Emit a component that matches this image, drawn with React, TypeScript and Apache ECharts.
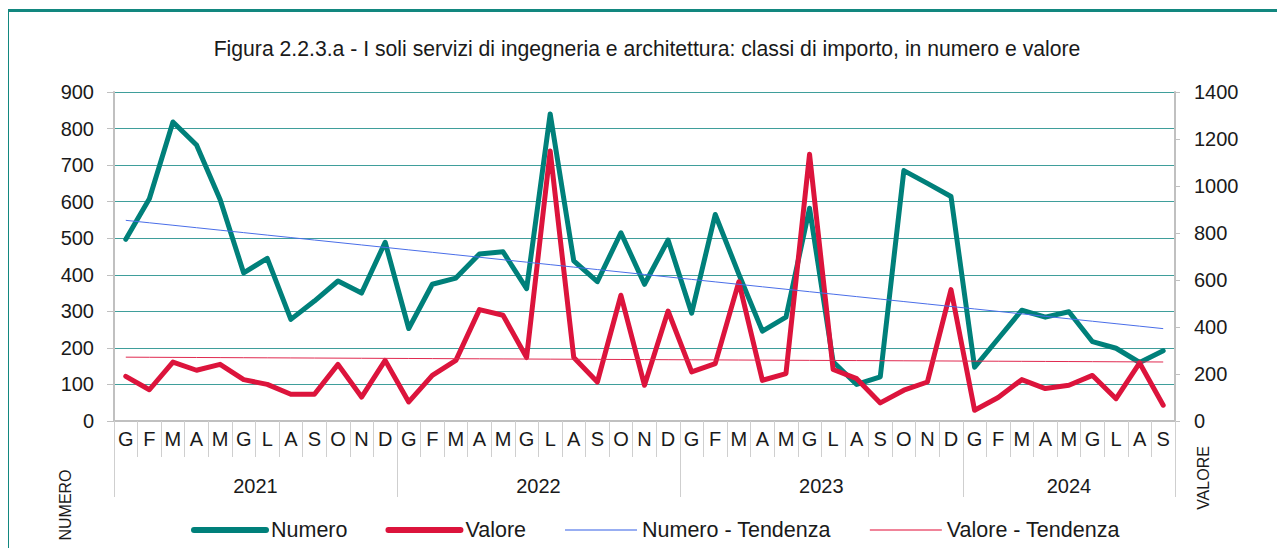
import React, { useEffect, useRef } from 'react';
import * as echarts from 'echarts';

const monthLetters = ['G', 'F', 'M', 'A', 'M', 'G', 'L', 'A', 'S', 'O', 'N', 'D'];
const years = ['2021', '2022', '2023', '2024'];
const monthsPerYear = [12, 12, 12, 9];

const numero = [
  497, 608, 818, 755, 606, 405, 445, 278, 328, 383, 350, 489,
  253, 374, 391, 457, 463, 362, 840, 438, 381, 515, 374, 495,
  295, 565, 402, 246, 284, 582, 162, 100, 121, 685, 650, 614,
  147, 225, 303, 284, 299, 217, 199, 160, 192,
];
const valore = [
  190, 133, 251, 216, 241, 176, 156, 114, 114, 241, 102, 258,
  81, 194, 258, 474, 450, 270, 1149, 270, 166, 535, 152, 468,
  209, 244, 592, 173, 202, 1135, 219, 180, 77, 131, 166, 559,
  46, 100, 176, 138, 152, 194, 95, 247, 67,
];

const leftMax = 900;
const leftStep = 100;
const rightMax = 1400;
const rightStep = 200;

const seriesNames = ['Numero', 'Valore', 'Numero - Tendenza', 'Valore - Tendenza'];
const titleText =
  'Figura 2.2.3.a - I soli servizi di ingegneria e architettura: classi di importo, in numero e valore';

function linearTrend(values: number[]): number[] {
  const n = values.length;
  let sx = 0, sy = 0, sxx = 0, sxy = 0;
  values.forEach((v, i) => {
    sx += i; sy += v; sxx += i * i; sxy += i * v;
  });
  const slope = (n * sxy - sx * sy) / (n * sxx - sx * sx);
  const intercept = (sy - slope * sx) / n;
  return values.map((_, i) => +(intercept + slope * i).toFixed(2));
}

const FONT = 'Liberation Sans, Arial, sans-serif';

export default function App() {
  const ref = useRef<HTMLDivElement>(null);

  useEffect(() => {
    if (!ref.current) return;
    const chart = echarts.init(ref.current, undefined, { renderer: 'svg' });

    const categories: string[] = [];
    years.forEach((y, yi) => {
      for (let m = 0; m < monthsPerYear[yi]; m++) categories.push(monthLetters[m] + ' ' + y);
    });
    const yearLabelIdx: Record<number, boolean> = {};
    const evenYear: Record<number, boolean> = {};
    let start = 0;
    monthsPerYear.forEach((cnt) => {
      const idx = start + Math.floor((cnt - 1) / 2);
      yearLabelIdx[idx] = true;
      if (cnt % 2 === 0) evenYear[idx] = true;
      start += cnt;
    });

    const gridColor = '#3f9e9b';
    const axisGray = '#c0c0c0';

    chart.setOption({
      animation: false,
      backgroundColor: '#ffffff',
      title: {
        text: titleText,
        left: 'center',
        top: 21,
        textStyle: { fontFamily: FONT, fontSize: 21.2, fontWeight: 'normal', color: '#1a1a1a' },
      },
      grid: { left: 105, right: 110, top: 80, bottom: 128, containLabel: false },
      legend: {
        data: [
          { name: seriesNames[0], lineStyle: { width: 6, cap: 'round' } },
          { name: seriesNames[1], lineStyle: { width: 6, cap: 'round' } },
          { name: seriesNames[2], lineStyle: { width: 2, color: '#98aef2' } },
          { name: seriesNames[3], lineStyle: { width: 2, color: '#f08499' } },
        ],
        left: 177,
        top: 502,
        itemWidth: 72,
        itemHeight: 14,
        itemGap: 38,
        itemStyle: { opacity: 0 },
        textStyle: { fontFamily: FONT, fontSize: 21.5, color: '#1a1a1a' },
      },
      xAxis: [
        {
          type: 'category',
          data: categories,
          boundaryGap: true,
          axisLine: { show: true, lineStyle: { color: axisGray, width: 2 } },
          axisTick: { show: true, interval: 0, length: 36, lineStyle: { color: '#cfcfcf', width: 1 } },
          axisLabel: {
            interval: 0,
            margin: 8,
            fontFamily: FONT,
            fontSize: 20,
            color: '#1a1a1a',
            formatter: (v: string) => v.split(' ')[0],
          },
          splitLine: { show: false },
        },
        {
          type: 'category',
          data: categories,
          position: 'bottom',
          boundaryGap: true,
          axisLine: { show: false },
          axisTick: { show: true, interval: 11, length: 76, lineStyle: { color: '#cfcfcf', width: 1 } },
          axisLabel: {
            interval: (idx: number) => !!yearLabelIdx[idx],
            margin: 55,
            fontFamily: FONT,
            fontSize: 20,
            color: '#1a1a1a',
            formatter: (v: string, idx: number) =>
              evenYear[idx] ? '{p|' + v.split(' ')[1] + '}' : v.split(' ')[1],
            rich: {
              p: { padding: [0, 0, 0, 23.6], fontFamily: FONT, fontSize: 20, color: '#1a1a1a' },
            },
          },
          splitLine: { show: false },
        },
      ],
      yAxis: [
        {
          type: 'value',
          min: 0,
          max: leftMax,
          interval: leftStep,
          position: 'left',
          axisLine: { show: true, lineStyle: { color: axisGray, width: 2 } },
          axisTick: { show: true, length: 7, lineStyle: { color: axisGray } },
          axisLabel: {
            margin: 20,
            fontFamily: FONT,
            fontSize: 20,
            color: '#1a1a1a',
            formatter: (v: number) => String(v),
          },
          splitLine: { show: true, lineStyle: { color: gridColor, width: 1 } },
        },
        {
          type: 'value',
          min: 0,
          max: rightMax,
          interval: rightStep,
          position: 'right',
          axisLine: { show: true, lineStyle: { color: axisGray, width: 2 } },
          axisTick: { show: true, length: 5, lineStyle: { color: axisGray } },
          axisLabel: {
            margin: 19,
            fontFamily: FONT,
            fontSize: 20,
            color: '#1a1a1a',
            formatter: (v: number) => String(v),
          },
          splitLine: { show: false },
        },
      ],
      series: [
        {
          name: seriesNames[0],
          type: 'line',
          data: numero,
          yAxisIndex: 0,
          symbol: 'none',
          color: '#00807a',
          lineStyle: { color: '#00807a', width: 5, cap: 'round', join: 'round' },
          z: 4,
        },
        {
          name: seriesNames[1],
          type: 'line',
          data: valore,
          yAxisIndex: 1,
          symbol: 'none',
          color: '#dc143c',
          lineStyle: { color: '#dc143c', width: 5, cap: 'round', join: 'round' },
          z: 5,
        },
        {
          name: seriesNames[2],
          type: 'line',
          data: linearTrend(numero),
          yAxisIndex: 0,
          symbol: 'none',
          color: '#8fa6f2',
          lineStyle: { color: '#4a6ee8', width: 1 },
          z: 6,
        },
        {
          name: seriesNames[3],
          type: 'line',
          data: linearTrend(valore),
          yAxisIndex: 1,
          symbol: 'none',
          color: '#ee8096',
          lineStyle: { color: '#e02a50', width: 1 },
          z: 6,
        },
      ],
      graphic: [
        {
          type: 'text',
          x: 56,
          y: 493,
          rotation: Math.PI / 2,
          style: {
            text: 'NUMERO',
            fontFamily: FONT,
            fontSize: 16,
            fill: '#1a1a1a',
            align: 'center',
            verticalAlign: 'middle',
          },
        },
        {
          type: 'text',
          x: 1194,
          y: 466,
          rotation: Math.PI / 2,
          style: {
            text: 'VALORE',
            fontFamily: FONT,
            fontSize: 16,
            fill: '#1a1a1a',
            align: 'center',
            verticalAlign: 'middle',
          },
        },
      ],
    });

    return () => chart.dispose();
  }, []);

  return (
    <div
      style={{
        position: 'relative',
        left: -2,
        top: 1,
        width: 1279,
        height: 540,
        boxSizing: 'border-box',
        borderLeft: '3px solid #12877f',
        borderTop: '3px solid #12877f',
        overflow: 'hidden',
      }}
    >
      <div ref={ref} style={{ width: 1276, height: 537 }} />
    </div>
  );
}
